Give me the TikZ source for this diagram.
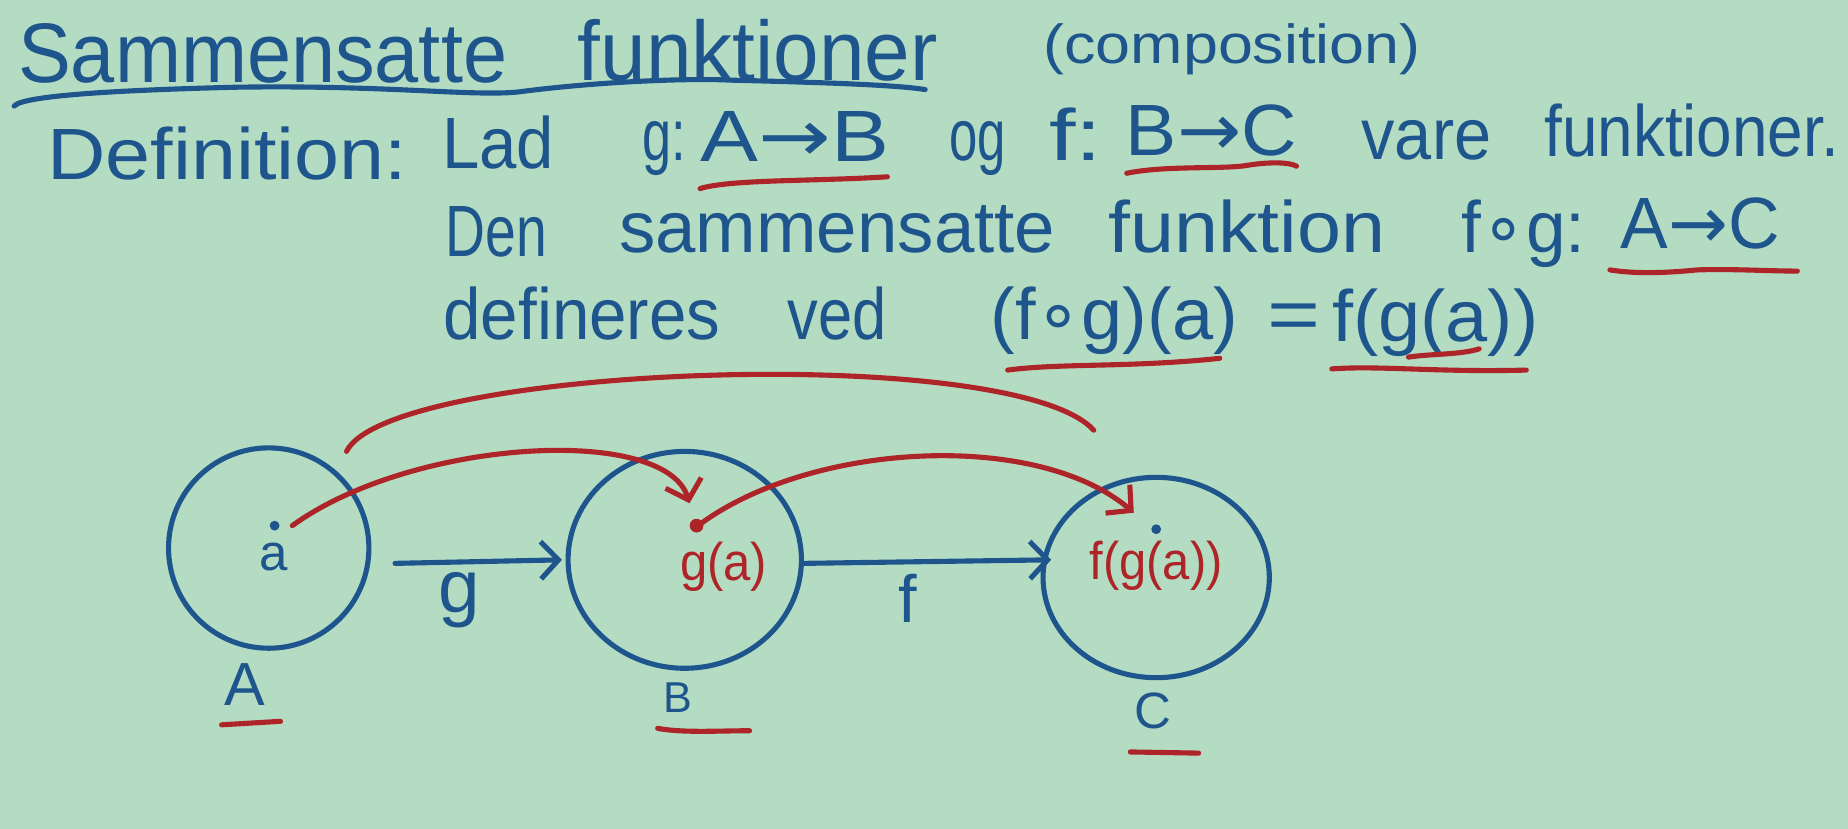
\documentclass[tikz,border=0pt]{standalone}
\usepackage{fontspec}
\setmainfont{Liberation Sans}
\newfontfamily\symf{DejaVu Sans}
\usetikzlibrary{arrows.meta,shapes.geometric}
\definecolor{bg}{HTML}{B4DCC3}
\definecolor{inkblue}{HTML}{1E558C}
\definecolor{inkred}{HTML}{AE2529}
\newdimen\pxu \pxu=0.6pt
\newcommand\fitw[2]{\resizebox{#1\pxu}{\height}{#2}}
\newcommand\ar{{\symf →}}
\newcommand\cmp{{\symf ∘}}
\tikzset{
  ink/.style={line width=2.6pt, line cap=round, line join=round},
  blueink/.style={ink, draw=inkblue},
  redink/.style={ink, draw=inkred},
  barb/.style={-{Straight Barb[length=9pt,width=19pt]}},
  wtitle/.style={anchor=base west, inner sep=0pt, text=inkblue, font=\fontsize{43}{50}\selectfont},
  wcomp/.style={anchor=base west, inner sep=0pt, text=inkblue, font=\fontsize{28}{34}\selectfont},
  word/.style={anchor=base west, inner sep=0pt, text=inkblue, font=\fontsize{37}{44}\selectfont},
  setbox/.style={ellipse, draw=inkblue, line width=2.6pt, inner sep=0pt},
  lblb/.style={inner sep=0pt, text=inkblue},
  lblr/.style={inner sep=0pt, text=inkred, font=\fontsize{27}{32}\selectfont},
  setname/.style={inner sep=0pt, text=inkblue},
  dot/.style={circle, fill=#1, inner sep=0pt, minimum size=6pt},
}
\begin{document}
\begin{tikzpicture}[x=0.6pt,y=-0.6pt]
\fill[bg] (0,0) rectangle (1568,703);
\useasboundingbox (0,0) rectangle (1568,703);

% ---- title ----
\node[wtitle] (t1) at (15,70) {\fitw{415}{Sammensatte}};
\node[wtitle] (t2) at (490,68) {\fitw{305}{funktioner}};
\node[wcomp] (t3) at (885,54) {\fitw{320}{(composition)}};
\draw[blueink] (12,90) .. controls (20,80) and (120,76) .. (200,74)
  .. controls (330,72) and (400,82) .. (440,78)
  .. controls (500,70) and (580,66) .. (620,68)
  .. controls (700,70) and (760,72) .. (785,76);

% ---- line 2 ----
\node[word] (l2a) at (40,152) {\fitw{305}{Definition:}};
\node[word] (l2b) at (375,143) {\fitw{95}{Lad}};
\node[word] (l2c) at (545,136) {\fitw{37}{g:}};
\node[word] (l2d) at (594,137) {\fitw{160}{A\ar B}};
\node[word] (l2e) at (805,136) {\fitw{48}{og}};
\node[word] (l2f) at (890,136) {\fitw{45}{f:}};
\node[word] (l2g) at (955,132) {\fitw{145}{B\ar C}};
\node[word] (l2h) at (1155,135) {\fitw{110}{vare}};
\node[word] (l2i) at (1310,133) {\fitw{250}{funktioner.}};
\draw[redink] (594,160) .. controls (620,152) and (690,154) .. (753,150);
\draw[redink] (956,147) .. controls (990,140) and (1040,144) .. (1060,140)
  .. controls (1080,137) and (1095,138) .. (1100,141);

% ---- line 3 ----
\node[word] (l3a) at (378,218) {\fitw{86}{Den}};
\node[word] (l3b) at (525,214) {\fitw{370}{sammensatte}};
\node[word] (l3c) at (940,214) {\fitw{235}{funktion}};
\node[word] (l3d) at (1240,214) {\fitw{105}{f\cmp g:}};
\node[word] (l3e) at (1375,211) {\fitw{135}{A\ar C}};
\draw[redink] (1366,229) .. controls (1390,233) and (1420,231) .. (1440,229)
  .. controls (1470,228) and (1500,230) .. (1525,230);

% ---- line 4 ----
\node[word] (l4a) at (376,288) {\fitw{235}{defineres}};
\node[word] (l4b) at (668,288) {\fitw{84}{ved}};
\node[word] (l4c) at (840,288) {\fitw{210}{(f\cmp g)(a)}};
\node[word] (l4d) at (1075,288) {\fitw{45}{=}};
\node[word] (l4e) at (1130,290) {\fitw{175}{f(g(a))}};
\draw[redink] (855,314) .. controls (900,308) and (960,312) .. (1035,304);
\draw[redink] (1130,313) .. controls (1170,310) and (1220,316) .. (1295,314);
\draw[redink] (1195,303) .. controls (1215,300) and (1240,301) .. (1255,296);

% ---- sets ----
\node[setbox, minimum width=170\pxu, minimum height=170\pxu] (A) at (228,465) {};
\node[setbox, minimum width=198\pxu, minimum height=184\pxu] (B) at (581,475) {};
\node[setbox, minimum width=192\pxu, minimum height=170\pxu] (C) at (981,490) {};

\node[setname, font=\fontsize{31}{36}\selectfont] (Al) at (208,581) {A};
\node[setname, font=\fontsize{22}{26}\selectfont] (Bl) at (575,592) {B};
\node[setname, font=\fontsize{26}{30}\selectfont] (Cl) at (978,603) {C};
\draw[redink] (188,615) -- (238,612);
\draw[redink] (558,618) .. controls (580,622) and (610,620) .. (636,620);
\draw[redink] (959,638) -- (1017,639);

% ---- maps ----
\draw[blueink, barb] ([shift={(20,13)}]A.east) -- ([shift={(-3,0)}]B.west);
\node[lblb, font=\fontsize{38}{44}\selectfont] (gl) at (390,509) {g};
\draw[blueink, barb] ([shift={(0,3)}]B.east) -- ([shift={(9,-15)}]C.west);
\node[lblb, font=\fontsize{34}{40}\selectfont] (fl) at (770,508) {f};

% ---- elements ----
\node[inner sep=0pt, text=inkblue, font=\fontsize{26}{30}\selectfont] (ea) at (232,473) {a};
\node[dot=inkblue, minimum size=5pt] (da) at (233,446) {};
\node[lblr] (ega) at (614,481) {\fitw{74}{g(a)}};
\node[dot=inkred, minimum size=7pt] (dg) at (591,446) {};
\node[lblr] (efg) at (981,480) {\fitw{113}{f(g(a))}};
\node[dot=inkblue, minimum size=5pt] (dfg) at (981,449) {};

\coordinate (ga) at (585,427);
\coordinate (fga) at (962,435);
\coordinate (arcS) at (294,383);
\coordinate (arcE) at (928,365);
\draw[redink, barb] ([shift={(15,0)}]da.center) .. controls (350,372) and (565,360) .. (ga);
\draw[redink, barb] ([shift={(4,-2)}]dg.center) .. controls (690,375) and (880,365) .. (fga);
\draw[redink] (arcS) .. controls (330,310) and (860,290) .. (arcE);
\end{tikzpicture}
\end{document}
